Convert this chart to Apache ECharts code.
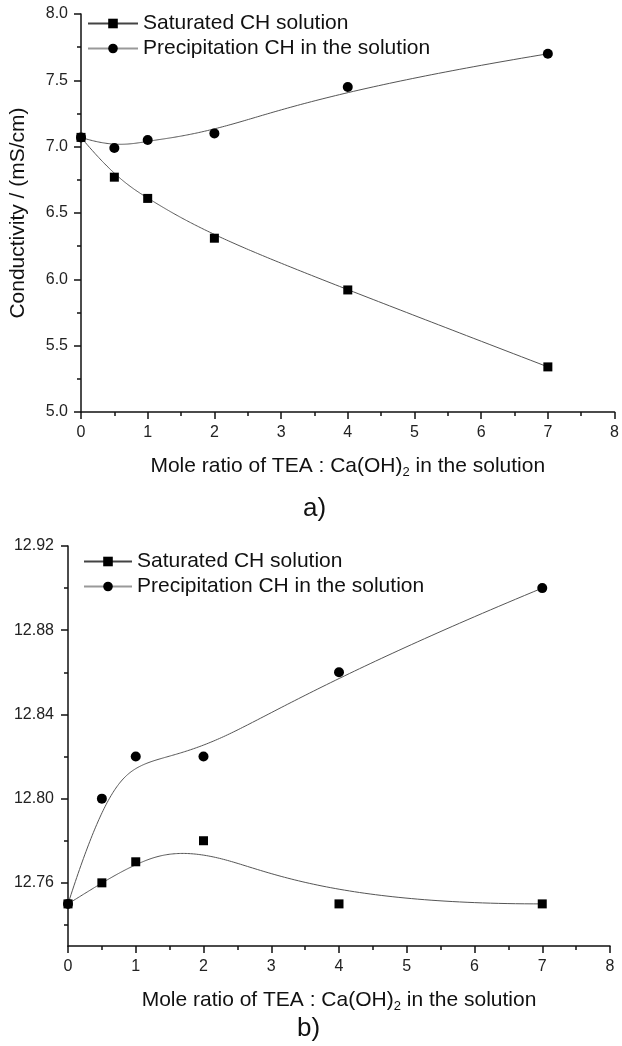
<!DOCTYPE html>
<html>
<head>
<meta charset="utf-8">
<script src="https://cdn.jsdelivr.net/npm/echarts@6/dist/echarts.min.js"></script>
<style>
  html, body { margin: 0; padding: 0; background: #fff; }
  #chart { width: 622px; height: 1046px; }
</style>
</head>
<body>
<div id="chart"></div>
<script>
// Mole ratio TEA : Ca(OH)2
const moleRatio = [0, 0.5, 1, 2, 4, 7];
const seriesNames = ['Saturated CH solution', 'Precipitation CH in the solution'];

// a) conductivity, mS/cm
const condSaturated = [7.07, 6.77, 6.61, 6.31, 5.92, 5.34];
const condPrecip = [7.07, 6.99, 7.05, 7.10, 7.45, 7.70];

// b) pH
const phSaturated = [12.75, 12.76, 12.77, 12.78, 12.75, 12.75];
const phPrecip = [12.75, 12.80, 12.82, 12.82, 12.86, 12.90];

// tick values for the pH axis
const phMajorTicks = [12.76, 12.80, 12.84, 12.88, 12.92];
const phMinorTicks = [12.74, 12.78, 12.82, 12.86, 12.90];

const FONT = '"Liberation Sans", Arial, sans-serif';

// clamped cubic B-spline using the data points as control points
function bspline(pts, samples) {
  const p = 3, n = pts.length - 1;
  const knots = [];
  for (let i = 0; i <= p; i++) knots.push(0);
  for (let i = 1; i <= n - p; i++) knots.push(i);
  for (let i = 0; i <= p; i++) knots.push(n - p + 1);
  const tMax = n - p + 1;
  const out = [];
  for (let s = 0; s <= samples; s++) {
    const t = tMax * s / samples;
    let k = p;
    while (k < n && t >= knots[k + 1]) k++;
    const d = [];
    for (let j = 0; j <= p; j++) d.push(pts[j + k - p].slice());
    for (let r = 1; r <= p; r++) {
      for (let j = p; j >= r; j--) {
        const denom = knots[j + 1 + k - r] - knots[j + k - p];
        const a = denom === 0 ? 0 : (t - knots[j + k - p]) / denom;
        d[j] = [(1 - a) * d[j - 1][0] + a * d[j][0], (1 - a) * d[j - 1][1] + a * d[j][1]];
      }
    }
    out.push(d[p]);
  }
  return out;
}

function pairs(ys) { return moleRatio.map((x, i) => [x, ys[i]]); }

function curveSeries(ys, gridIdx, color) {
  const pts = pairs(ys);
  return {
    type: 'custom',
    xAxisIndex: gridIdx, yAxisIndex: gridIdx === 0 ? 0 : 1,
    data: pts,
    z: 2,
    silent: true,
    renderItem: function (params, api) {
      if (params.dataIndex !== 0) return null;
      const pix = bspline(pts, 200).map(pt => api.coord(pt));
      return { type: 'polyline', shape: { points: pix }, style: { stroke: color, lineWidth: 1, fill: null } };
    }
  };
}

function markerSeries(name, ys, gridIdx, symbol) {
  return {
    name: name,
    type: 'line',
    xAxisIndex: gridIdx, yAxisIndex: gridIdx === 0 ? 0 : 1,
    data: pairs(ys),
    symbol: symbol,
    symbolSize: symbol === 'circle' ? 10 : 9,
    showAllSymbol: true,
    clip: false,
    z: 3,
    lineStyle: { opacity: 0, color: '#444', width: 1 },
    itemStyle: { color: '#000' }
  };
}

function xAxis(gridIndex) {
  return {
    type: 'value', gridIndex: gridIndex, min: 0, max: 8, interval: 1,
    name: 'Mole ratio of TEA : Ca(OH){sub|2} in the solution',
    nameLocation: 'middle', nameGap: 42,
    nameTextStyle: { fontFamily: FONT, fontSize: 21, color: '#111',
      rich: { sub: { fontFamily: FONT, fontSize: 13, color: '#111', verticalAlign: 'bottom', padding: [12, 0, 0, 0] } } },
    axisLine: { onZero: false, lineStyle: { color: '#111', width: 1.5 } },
    axisTick: { length: 7, lineStyle: { color: '#111', width: 1.5 } },
    minorTick: { show: true, splitNumber: 2, length: 4, lineStyle: { color: '#111', width: 1.5 } },
    axisLabel: { fontFamily: FONT, fontSize: 16, color: '#222', margin: 13 },
    splitLine: { show: false }, minorSplitLine: { show: false }
  };
}

const legendText = { fontFamily: FONT, fontSize: 21, color: '#111' };

const chart = echarts.init(document.getElementById('chart'), null, { renderer: 'canvas' });
chart.setOption({
  animation: false,
  backgroundColor: '#fff',
  title: [
    { text: 'a)', left: 298, top: 491, textStyle: { fontFamily: FONT, fontSize: 26, fontWeight: 'normal', color: '#111' } },
    { text: 'b)', left: 292, top: 1011, textStyle: { fontFamily: FONT, fontSize: 26, fontWeight: 'normal', color: '#111' } }
  ],
  grid: [
    { left: 77, top: 14, width: 538, height: 398 },
    { left: 68, top: 546, width: 542, height: 400 }
  ],
  legend: [
    {
      left: 82, top: 8, orient: 'vertical', itemWidth: 50, itemHeight: 12, itemGap: 4,
      textStyle: legendText,
      data: [
        { name: seriesNames[0], lineStyle: { opacity: 1, color: '#444' } },
        { name: seriesNames[1], lineStyle: { opacity: 1, color: '#999' } }
      ]
    },
    {
      left: 78, top: 546, orient: 'vertical', itemWidth: 48, itemHeight: 12, itemGap: 4,
      textStyle: legendText,
      data: [
        { name: seriesNames[0] + ' ', lineStyle: { opacity: 1, color: '#444' } },
        { name: seriesNames[1] + ' ', lineStyle: { opacity: 1, color: '#999' } }
      ]
    }
  ],
  xAxis: [xAxis(0), xAxis(1)],
  yAxis: [
    {
      type: 'value', gridIndex: 0, min: 5, max: 8, interval: 0.5,
      name: 'Conductivity / (mS/cm)', nameLocation: 'middle', nameGap: 52,
      nameTextStyle: { fontFamily: FONT, fontSize: 21, color: '#111' },
      axisLine: { show: true, lineStyle: { color: '#111', width: 1.5 } },
      axisTick: { show: true, length: 7, lineStyle: { color: '#111', width: 1.5 } },
      minorTick: { show: true, splitNumber: 2, length: 4, lineStyle: { color: '#111', width: 1.5 } },
      axisLabel: { fontFamily: FONT, fontSize: 16, color: '#222', margin: 13, formatter: v => v.toFixed(1) },
      splitLine: { show: false }, minorSplitLine: { show: false }
    },
    {
      type: 'value', gridIndex: 1, position: 'left', min: 12.73, max: 12.92,
      axisLine: { show: true, lineStyle: { color: '#111', width: 1.5 } },
      axisTick: { show: true, length: 7, customValues: phMajorTicks, lineStyle: { color: '#111', width: 1.5 } },
      axisLabel: { fontFamily: FONT, fontSize: 16, color: '#222', margin: 14, customValues: phMajorTicks, formatter: v => v.toFixed(2) },
      splitLine: { show: false }
    },
    {
      type: 'value', gridIndex: 1, position: 'left', offset: 0, min: 12.73, max: 12.92,
      axisLine: { show: false },
      axisTick: { show: true, length: 4, customValues: phMinorTicks, lineStyle: { color: '#111', width: 1.5 } },
      axisLabel: { show: false },
      splitLine: { show: false }
    }
  ],
  series: [
    curveSeries(condSaturated, 0, '#555'),
    curveSeries(condPrecip, 0, '#555'),
    markerSeries(seriesNames[0], condSaturated, 0, 'rect'),
    markerSeries(seriesNames[1], condPrecip, 0, 'circle'),
    curveSeries(phSaturated, 1, '#555'),
    curveSeries(phPrecip, 1, '#555'),
    markerSeries(seriesNames[0] + ' ', phSaturated, 1, 'rect'),
    markerSeries(seriesNames[1] + ' ', phPrecip, 1, 'circle')
  ]
});
</script>
</body>
</html>
